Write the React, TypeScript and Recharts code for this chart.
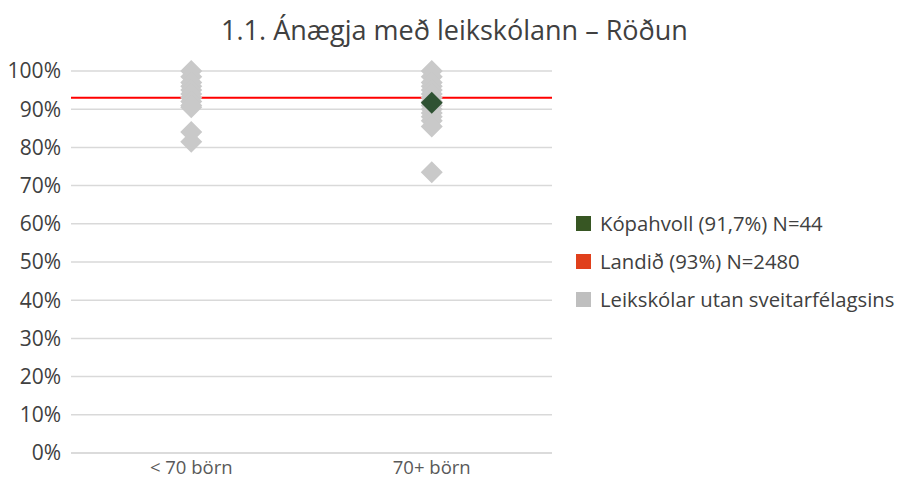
import {
  ScatterChart,
  Scatter,
  XAxis,
  YAxis,
  CartesianGrid,
} from "recharts";

const categories = ["< 70 börn", "70+ börn"];

// leikskólar utan sveitarfélagsins, per group (%)
const otherSmall = [100, 98.5, 97, 96, 95, 94, 93, 92, 91, 90.5, 84, 81.5];
const otherLarge = [100, 98.5, 97, 96, 95, 94, 93, 92, 91, 90, 89, 88, 87, 85.5, 73.5];

const kopavogurGroup = "70+ börn";
const kopavogurValue = 91.7;
const landidValue = 93;

const yTicks = [0, 10, 20, 30, 40, 50, 60, 70, 80, 90, 100];

const legendItems = [
  { label: "Kópahvoll (91,7%) N=44", color: "#375623" },
  { label: "Landið (93%) N=2480", color: "#e0401c" },
  { label: "Leikskólar utan sveitarfélagsins", color: "#bfbfbf" },
];

const font = "'Open Sans', Lato, sans-serif";

const catX = (name: string) => categories.indexOf(name) + 0.5;

const greyData = [
  ...otherSmall.map((v) => ({ x: catX(categories[0]), y: v })),
  ...otherLarge.map((v) => ({ x: catX(categories[1]), y: v })),
];
const greenData = [{ x: catX(kopavogurGroup), y: kopavogurValue }];
// landið line across the whole plot
const landidData = [
  { x: 0, y: landidValue },
  { x: categories.length, y: landidValue },
];

function diamond(fill: string, r: number) {
  return (props: any) => {
    const { cx, cy } = props;
    if (cx == null || cy == null) return <g />;
    return (
      <polygon
        points={`${cx},${cy - r} ${cx + r},${cy} ${cx},${cy + r} ${cx - r},${cy}`}
        fill={fill}
      />
    );
  };
}

function LegendBox() {
  return (
    <div
      style={{
        position: "absolute",
        left: 576,
        top: 204,
        fontFamily: font,
        fontSize: 20.3,
        color: "#404040",
        whiteSpace: "nowrap",
      }}
    >
      {legendItems.map((it) => (
        <div
          key={it.label}
          style={{ display: "flex", alignItems: "center", height: 38 }}
        >
          <span
            style={{
              width: 15,
              height: 15,
              background: it.color,
              marginRight: 9,
              display: "inline-block",
            }}
          />
          <span>{it.label}</span>
        </div>
      ))}
    </div>
  );
}

export default function App() {
  return (
    <div style={{ position: "absolute", left: 0, top: 0, width: 901, height: 479, background: "#fff" }}>
      <div
        style={{
          position: "absolute",
          top: 11,
          left: 4,
          width: 901,
          textAlign: "center",
          fontFamily: font,
          fontSize: 27,
          color: "#404040",
          whiteSpace: "nowrap",
        }}
      >
        1.1. Ánægja með leikskólann – Röðun
      </div>
      <ScatterChart
        width={901}
        height={479}
        margin={{ top: 71, right: 349, bottom: 0, left: 11 }}
      >
        <CartesianGrid vertical={false} stroke="#d9d9d9" strokeWidth={1.5} />
        <XAxis
          type="number"
          dataKey="x"
          domain={[0, 2]}
          ticks={[0.5, 1.5]}
          tickFormatter={(v: number) => categories[Math.round(v - 0.5)]}
          axisLine={{ stroke: "#d9d9d9", strokeWidth: 1.5 }}
          tickLine={false}
          height={26}
          tick={{ fill: "#595959", fontSize: 18.5, fontFamily: font }}
          tickMargin={2}
        />
        <YAxis
          type="number"
          dataKey="y"
          domain={[0, 100]}
          ticks={yTicks}
          tickFormatter={(v: number) => `${v}%`}
          axisLine={false}
          tickLine={false}
          width={60}
          tick={{ fill: "#404040", fontSize: 21, fontFamily: font }}
          tickMargin={4}
        />
        <Scatter
          name="Landið"
          data={landidData}
          line={{ stroke: "#ff0000", strokeWidth: 2 }}
          shape={() => <g />}
          isAnimationActive={false}
        />
        <Scatter
          name="Leikskólar utan sveitarfélagsins"
          data={greyData}
          shape={diamond("#c9c9c9", 11)}
          isAnimationActive={false}
        />
        <Scatter
          name="Kópahvoll"
          data={greenData}
          shape={diamond("#2f5233", 11)}
          isAnimationActive={false}
        />
      </ScatterChart>
      <LegendBox />
    </div>
  );
}
